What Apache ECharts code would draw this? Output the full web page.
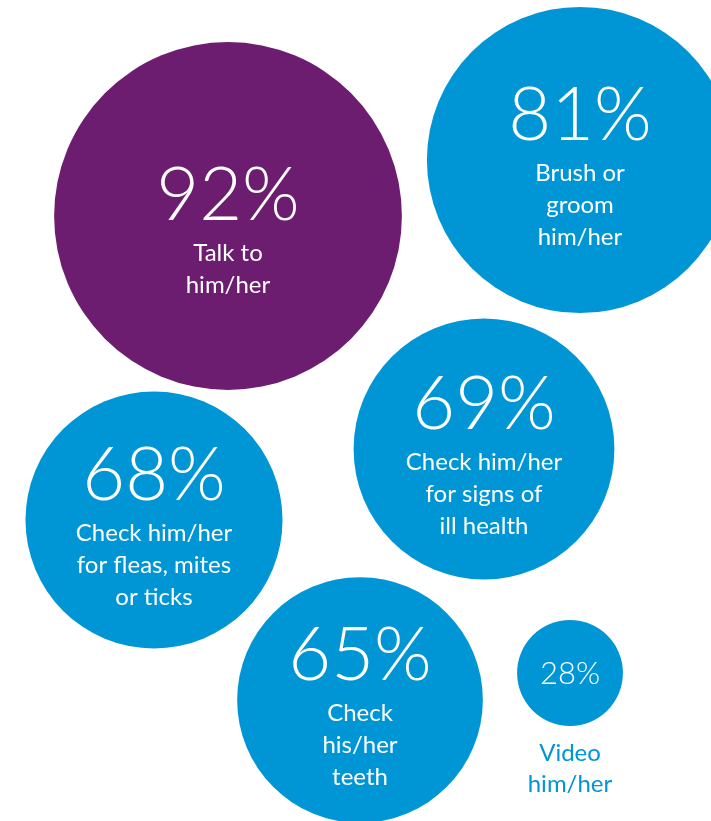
<!DOCTYPE html>
<html>
<head>
<meta charset="utf-8">
<script src="https://cdn.jsdelivr.net/npm/echarts@6/dist/echarts.min.js"></script>
<style>
  html, body { margin: 0; padding: 0; background: #fff; }
  #chart { width: 711px; height: 821px; }
</style>
</head>
<body>
<div id="chart"></div>
<script>
  // share of owners doing each activity
  var percents = [92, 81, 69, 68, 65, 28];
  var activities = [
    'Talk to\nhim/her',
    'Brush or\ngroom\nhim/her',
    'Check him/her\nfor signs of\nill health',
    'Check him/her\nfor fleas, mites\nor ticks',
    'Check\nhis/her\nteeth',
    'Video\nhim/her'
  ];
  // bubble centres in the layout's coordinate space
  var xPos = [228, 580, 484, 154, 360, 570];
  var yPos = [216, 160, 449, 520, 700, 673];

  var PURPLE = '#6d1d70';
  var BLUE = '#0096d6';
  var FONT = 'Lato, "Open Sans", sans-serif';

  function descLines(text, style) {
    return text.split('\n').map(function (l) { return '{' + style + '|' + l + '}'; }).join('\n');
  }

  var seriesData = percents.map(function (p, i) {
    var item = {
      value: [xPos[i], yPos[i], p],
      itemStyle: { color: i === 0 ? PURPLE : BLUE, opacity: 1 }
    };
    if (p < 40) {
      // small bubble: number inside, caption underneath in blue
      item.label = {
        offset: [0, 54],
        formatter: '{small|' + p + '%}\n{gap| }\n' + descLines(activities[i], 'blue')
      };
    } else {
      item.label = {
        offset: [0, i === 0 ? 12 : 4],
        formatter: '{pct|' + p + '%}\n' + descLines(activities[i], 'desc')
      };
    }
    return item;
  });

  var myChart = echarts.init(document.getElementById('chart'));
  myChart.setOption({
    animation: false,
    grid: { left: 0, right: 0, top: 0, bottom: 0 },
    xAxis: { type: 'value', min: 0, max: 711, show: false },
    yAxis: { type: 'value', min: 0, max: 821, inverse: true, show: false },
    series: [{
      type: 'scatter',
      clip: false,
      symbol: 'circle',
      symbolSize: function (val) { return val[2] * 3.78; },
      data: seriesData,
      itemStyle: { opacity: 1 },
      label: {
        show: true,
        position: 'inside',
        align: 'center',
        fontFamily: FONT,
        rich: {
          pct: { fontFamily: FONT, fontSize: 74, fontWeight: 300, color: '#fff', lineHeight: 82 },
          desc: { fontFamily: FONT, fontSize: 24, color: '#fff', lineHeight: 32 },
          small: { fontFamily: FONT, fontSize: 31, fontWeight: 300, color: '#fff', lineHeight: 40 },
          gap: { fontSize: 10, lineHeight: 44 },
          blue: { fontFamily: FONT, fontSize: 24, color: BLUE, lineHeight: 31 }
        }
      },
      emphasis: { disabled: true }
    }]
  });
</script>
</body>
</html>
